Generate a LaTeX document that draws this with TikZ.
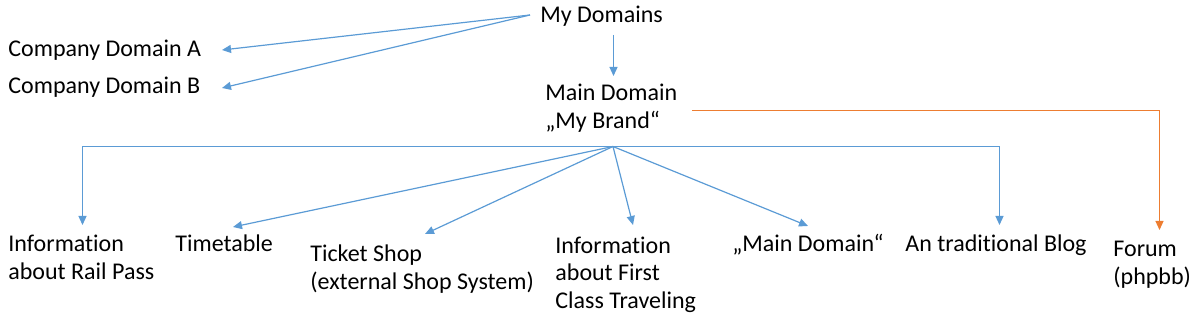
\documentclass[tikz,border=0pt]{standalone}
\usepackage{fontspec}
\setmainfont{Carlito}[Ligatures=NoCommon]
\usetikzlibrary{arrows.meta}
\definecolor{lblue}{RGB}{91,155,213}
\definecolor{lorange}{RGB}{237,125,49}
\tikzset{
  lbl/.style={anchor=base west, inner sep=0pt, align=left, font=\fontsize{12}{14}\selectfont},
  conn/.style={draw=lblue, line width=0.6pt, -{Triangle[length=4.5pt,width=4pt]}},
  oconn/.style={draw=lorange, line width=0.6pt, -{Triangle[length=4.5pt,width=4pt]}}
}
\begin{document}
\begin{tikzpicture}[x=0.5pt,y=-0.5pt]
\useasboundingbox (0,0) rectangle (1195,320);
% texts (anchor = baseline of last line)
\node[lbl] (my) at (540,23) {My Domains};
\node[lbl] (ca) at (8,57) {Company Domain A};
\node[lbl] (cb) at (8,94) {Company Domain B};
\node[lbl] (main) at (545,129) {Main Domain\\„My Brand“};
\node[lbl] (rail) at (8,280) {Information\\about Rail Pass};
\node[lbl] (time) at (175,252) {Timetable};
\node[lbl] (shop) at (310,290) {Ticket Shop\\(external Shop System)};
\node[lbl] (first) at (555,309) {Information\\about First\\Class Traveling};
\node[lbl] (md) at (732,252) {„Main Domain“};
\node[lbl] (blog) at (905,252) {An traditional Blog};
\node[lbl] (forum) at (1113,285) {Forum\\(phpbb)};
% coordinates
\coordinate (mysrc) at (530,15);
\coordinate (catip) at (222,50);
\coordinate (cbtip) at (222,88);
\coordinate (mydown) at (613.5,35);
\coordinate (maintip) at (613.5,76);
\coordinate (hub) at (613,146.5);
\coordinate (railtip) at (82.5,225);
\coordinate (timetip) at (233,227);
\coordinate (shoptip) at (425,234);
\coordinate (firsttip) at (633,225);
\coordinate (mdtip) at (808,226);
\coordinate (blogtip) at (999.5,225);
\coordinate (osrc) at (692,110.5);
\coordinate (forumtip) at (1159.5,230);
% connectors
\draw[conn] (mysrc) -- (catip);
\draw[conn] (mysrc) -- (cbtip);
\draw[conn] (mydown) -- (maintip);
\draw[conn] (hub) -| (railtip);
\draw[conn] (hub) -| (blogtip);
\draw[conn] (hub) -- (timetip);
\draw[conn] (hub) -- (shoptip);
\draw[conn] (hub) -- (firsttip);
\draw[conn] (hub) -- (mdtip);
\draw[oconn] (osrc) -| (forumtip);
\end{tikzpicture}
\end{document}
